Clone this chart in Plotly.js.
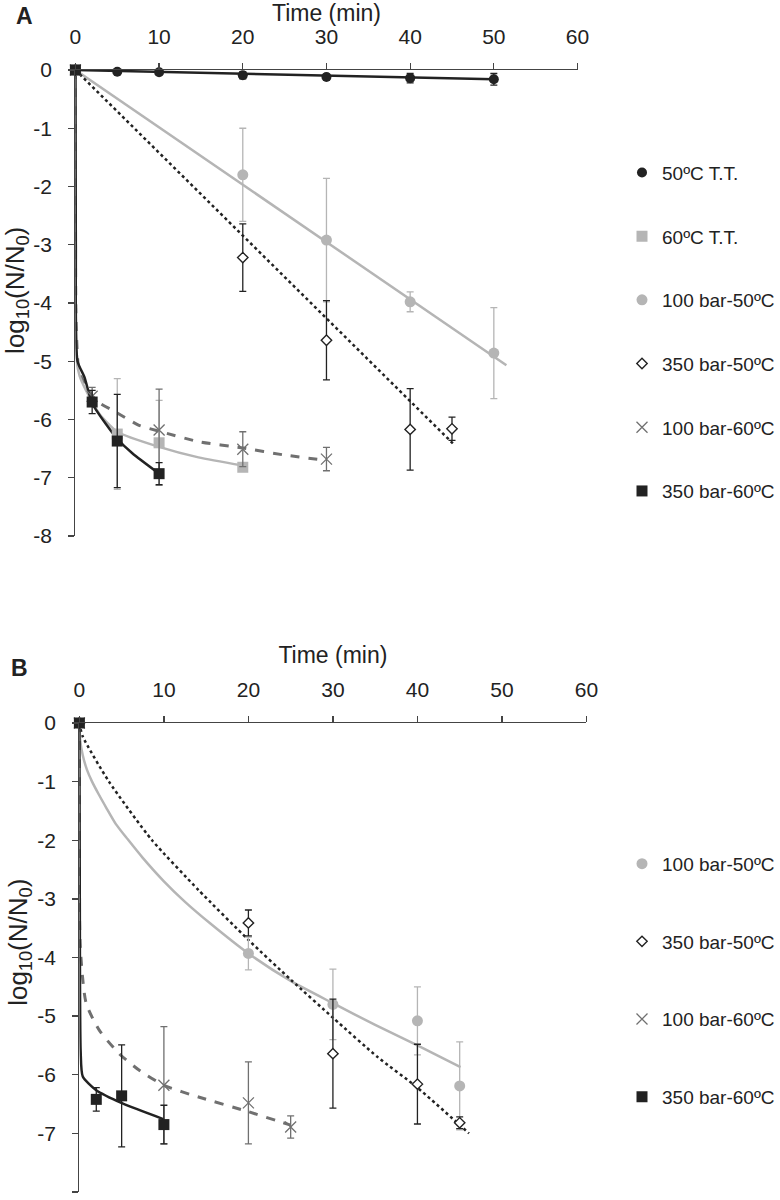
<!DOCTYPE html>
<html>
<head>
<meta charset="utf-8">
<script src="https://cdn.plot.ly/plotly-3.0.1.min.js"></script>
<style>
  body { margin: 0; background: #fff; }
  #chart { width: 780px; height: 1200px; }
</style>
</head>
<body>
<div id="chart"></div>
<script>
// ---- panel A : measured points (time in min, log10 N/N0, sd) ----
const timeA_tt50 = [0, 5, 10, 20, 30, 40, 50];
const logA_tt50 = [0, -0.03, -0.04, -0.09, -0.12, -0.14, -0.16];
const errA_tt50 = [0, 0.03, 0.03, 0.06, 0.05, 0.08, 0.1];

const timeA_tt60 = [0, 5, 10, 20];
const logA_tt60 = [0, -6.25, -6.4, -6.82];
const errA_tt60 = [0, 0.95, 0.73, 0.05];

const timeA_p100t50 = [0, 20, 30, 40, 50];
const logA_p100t50 = [0, -1.8, -2.92, -3.98, -4.86];
const errA_p100t50 = [0, 0.8, 1.06, 0.17, 0.78];

const timeA_p350t50 = [0, 20, 30, 40, 45];
const logA_p350t50 = [0, -3.22, -4.64, -6.17, -6.16];
const errA_p350t50 = [0, 0.58, 0.68, 0.7, 0.2];

const timeA_p100t60 = [0, 2, 10, 20, 30];
const logA_p100t60 = [0, -5.6, -6.18, -6.51, -6.68];
const errA_p100t60 = [0, 0.15, 0.7, 0.3, 0.2];

const timeA_p350t60 = [0, 2, 5, 10];
const logA_p350t60 = [0, -5.7, -6.37, -6.93];
const errA_p350t60 = [0, 0.2, 0.8, 0.19];

// ---- panel A : fitted curves ----
const fitA_tt50_x = [0, 50];
const fitA_tt50_y = [0, -0.16];
const fitA_tt60_x = [0, 0.03, 0.15, 0.5, 1.27, 2.85, 5, 10, 14.7, 20];
const fitA_tt60_y = [0, -3.5, -4.98, -5.25, -5.5, -5.9, -6.21, -6.47, -6.65, -6.79];
const fitA_p100t50_x = [0, 51.5];
const fitA_p100t50_y = [0, -5.07];
const fitA_p350t50_x = [0, 45.1];
const fitA_p350t50_y = [0, -6.41];
const fitA_p100t60_x = [0, 0.1, 0.5, 2.45, 4.8, 7.6, 10, 14.7, 20, 25, 29.3];
const fitA_p100t60_y = [0, -4.4, -5.2, -5.67, -5.87, -6.1, -6.2, -6.38, -6.49, -6.61, -6.69];
const fitA_p350t60_x = [0, 0.05, 0.25, 1.07, 2, 3.6, 5, 6.8, 10];
const fitA_p350t60_y = [0, -3, -5, -5.27, -5.72, -6.07, -6.33, -6.58, -6.93];

// ---- panel B : measured points ----
const timeB_p100t50 = [0, 20, 30, 40, 45];
const logB_p100t50 = [0, -3.93, -4.8, -5.08, -6.19];
const errB_p100t50 = [0, 0.28, 0.6, 0.58, 0.75];

const timeB_p350t50 = [0, 20, 30, 40, 45];
const logB_p350t50 = [0, -3.41, -5.64, -6.16, -6.82];
const errB_p350t50 = [0, 0.22, 0.93, 0.68, 0.1];

const timeB_p100t60 = [0, 10, 20, 25];
const logB_p100t60 = [0, -6.18, -6.48, -6.89];
const errB_p100t60 = [0, 1.0, 0.7, 0.19];

const timeB_p350t60 = [0, 2, 5, 10];
const logB_p350t60 = [0, -6.42, -6.36, -6.85];
const errB_p350t60 = [0, 0.2, 0.87, 0.33];

// ---- panel B : fitted curves ----
const fitB_p100t50_x = [0, 0.1, 0.4, 0.9, 1.5, 2.3, 3.2, 4.3, 5.7, 7.5, 10, 12.5, 15.5, 20, 25, 30, 35, 40, 45.1];
const fitB_p100t50_y = [0, -0.3, -0.55, -0.8, -1.0, -1.22, -1.45, -1.72, -1.98, -2.3, -2.7, -3.05, -3.42, -3.93, -4.4, -4.78, -5.15, -5.5, -5.87];
const fitB_p350t50_x = [0, 0.4, 3.5, 8.6, 14.1, 20, 25.1, 30.1, 35.3, 40, 46.1];
const fitB_p350t50_y = [0, -0.23, -1.0, -2.0, -2.85, -3.7, -4.39, -5.04, -5.7, -6.22, -7.0];
const fitB_p100t60_x = [0, 0.1, 0.8, 2.35, 4.7, 7.05, 10, 14.1, 20, 25];
const fitB_p100t60_y = [0, -3.8, -4.78, -5.24, -5.64, -5.92, -6.18, -6.38, -6.63, -6.86];
const fitB_p350t60_x = [0, 0.05, 0.15, 0.4, 1.96, 5.1, 10];
const fitB_p350t60_y = [0, -3, -5.6, -6.03, -6.26, -6.49, -6.76];

const xTicks = [0, 10, 20, 30, 40, 50, 60];
const yTicks = [0, -1, -2, -3, -4, -5, -6, -7, -8];
const yTickText = ["0", "-1", "-2", "-3", "-4", "-5", "-6", "-7", "-8"];

const BLACK = "#222222";
const LIGHT = "#b5b5b5";
const MID = "#707070";
const FONT = "Liberation Sans, Arial, sans-serif";

function fit(x, y, color, dash, width, xa, ya) {
  return {
    x: x, y: y, xaxis: xa, yaxis: ya,
    mode: "lines", type: "scatter", showlegend: false, hoverinfo: "skip",
    line: { color: color, width: width, dash: dash, shape: "spline", smoothing: 0.6 },
    cliponaxis: false,
  };
}

function pts(name, x, y, err, marker, errColor, xa, ya, legend) {
  return {
    x: x, y: y, xaxis: xa, yaxis: ya, name: name, legend: legend, legendgroup: name + xa,
    mode: "markers", type: "scatter", marker: marker, cliponaxis: false,
    error_y: { type: "data", array: err, visible: true, color: errColor, thickness: 1.3, width: 3.5 },
  };
}

const mCircleBlack = { symbol: "circle", size: 10, color: BLACK };
const mSquareGrey = { symbol: "square", size: 11, color: LIGHT };
const mCircleGrey = { symbol: "circle", size: 11, color: LIGHT };
const mDiamond = { symbol: "diamond", size: 8, color: "#ffffff", line: { color: BLACK, width: 1.4 } };
const mCross = { symbol: "x-thin-open", size: 11, color: MID, line: { color: MID, width: 1.3 } };
const mSquareBlack = { symbol: "square", size: 11, color: BLACK };

const data = [
  // panel A lines
  fit(fitA_p100t50_x, fitA_p100t50_y, LIGHT, "solid", 2.5, "x", "y"),
  fit(fitA_p350t50_x, fitA_p350t50_y, BLACK, "dot", 2.5, "x", "y"),
  fit(fitA_tt50_x, fitA_tt50_y, BLACK, "solid", 2.5, "x", "y"),
  fit(fitA_p100t60_x, fitA_p100t60_y, MID, "dash", 3, "x", "y"),
  fit(fitA_tt60_x, fitA_tt60_y, LIGHT, "solid", 2.5, "x", "y"),
  fit(fitA_p350t60_x, fitA_p350t60_y, BLACK, "solid", 2.5, "x", "y"),
  // panel A points
  pts("50ºC T.T.", timeA_tt50, logA_tt50, errA_tt50, mCircleBlack, BLACK, "x", "y", "legend"),
  pts("60ºC T.T.", timeA_tt60, logA_tt60, errA_tt60, mSquareGrey, LIGHT, "x", "y", "legend"),
  pts("100 bar-50ºC", timeA_p100t50, logA_p100t50, errA_p100t50, mCircleGrey, LIGHT, "x", "y", "legend"),
  pts("350 bar-50ºC", timeA_p350t50, logA_p350t50, errA_p350t50, mDiamond, BLACK, "x", "y", "legend"),
  pts("100 bar-60ºC", timeA_p100t60, logA_p100t60, errA_p100t60, mCross, MID, "x", "y", "legend"),
  pts("350 bar-60ºC", timeA_p350t60, logA_p350t60, errA_p350t60, mSquareBlack, BLACK, "x", "y", "legend"),
  // panel B lines
  fit(fitB_p100t50_x, fitB_p100t50_y, LIGHT, "solid", 2.5, "x2", "y2"),
  fit(fitB_p350t50_x, fitB_p350t50_y, BLACK, "dot", 2.5, "x2", "y2"),
  fit(fitB_p100t60_x, fitB_p100t60_y, MID, "dash", 3, "x2", "y2"),
  fit(fitB_p350t60_x, fitB_p350t60_y, BLACK, "solid", 2.5, "x2", "y2"),
  // panel B points
  pts("100 bar-50ºC", timeB_p100t50, logB_p100t50, errB_p100t50, mCircleGrey, LIGHT, "x2", "y2", "legend2"),
  pts("350 bar-50ºC", timeB_p350t50, logB_p350t50, errB_p350t50, mDiamond, BLACK, "x2", "y2", "legend2"),
  pts("100 bar-60ºC", timeB_p100t60, logB_p100t60, errB_p100t60, mCross, MID, "x2", "y2", "legend2"),
  pts("350 bar-60ºC", timeB_p350t60, logB_p350t60, errB_p350t60, mSquareBlack, BLACK, "x2", "y2", "legend2"),
];

function xAxis(domain, anchor) {
  return {
    domain: domain, anchor: anchor, side: "top", range: [0, 60],
    tickvals: xTicks, ticks: "outside", ticklen: 6, tickwidth: 1.3, tickcolor: "#444",
    ticklabelstandoff: 10, tickfont: { size: 21, color: BLACK },
    showline: true, linecolor: "#444", linewidth: 1.3,
    showgrid: false, zeroline: false,
    title: { text: "Time (min)", font: { size: 23, color: BLACK }, standoff: 8 },
  };
}

function yAxis(domain, anchor) {
  return {
    domain: domain, anchor: anchor, range: [-8, 0],
    tickvals: yTicks, ticktext: yTickText, ticks: "outside", ticklen: 6, tickwidth: 1.3, tickcolor: "#444",
    ticklabelstandoff: 12, tickfont: { size: 21, color: BLACK },
    showline: true, linecolor: "#444", linewidth: 1.3,
    showgrid: false, zeroline: false,
  };
}

const legendStyle = {
  font: { size: 19, color: BLACK, family: FONT },
  bgcolor: "rgba(0,0,0,0)", traceorder: "grouped", itemclick: false,
  xanchor: "left", yanchor: "top",
};

function note(text, x, y, size, angle) {
  return {
    text: text, xref: "paper", yref: "paper", x: x / 780, y: 1 - y / 1200,
    xanchor: "center", yanchor: "middle", showarrow: false, textangle: angle,
    font: { size: size, color: BLACK },
  };
}

const layout = {
  width: 780, height: 1200, autosize: false,
  margin: { l: 0, r: 0, t: 0, b: 0 },
  paper_bgcolor: "#fff", plot_bgcolor: "#fff",
  font: { family: FONT, color: BLACK },
  xaxis: xAxis([76 / 780, 582 / 780], "y"),
  yaxis: yAxis([1 - 536 / 1200, 1 - 70 / 1200], "x"),
  xaxis2: xAxis([80 / 780, 591 / 780], "y2"),
  yaxis2: yAxis([1 - 1192 / 1200, 1 - 723 / 1200], "x2"),
  legend: Object.assign({ x: 0.804, y: 0.872, tracegroupgap: 36 }, legendStyle),
  legend2: Object.assign({ x: 0.804, y: 0.296, tracegroupgap: 50 }, legendStyle),
  annotations: [
    note("<b>A</b>", 25, 16, 23, 0),
    note("<b>B</b>", 20, 668, 23, 0),
    note("log<sub>10</sub>(N/N<sub>0</sub>)", 16, 290, 26, -90),
    note("log<sub>10</sub>(N/N<sub>0</sub>)", 19, 942, 26, -90),
  ],
};

Plotly.newPlot("chart", data, layout, { staticPlot: true });
</script>
</body>
</html>
